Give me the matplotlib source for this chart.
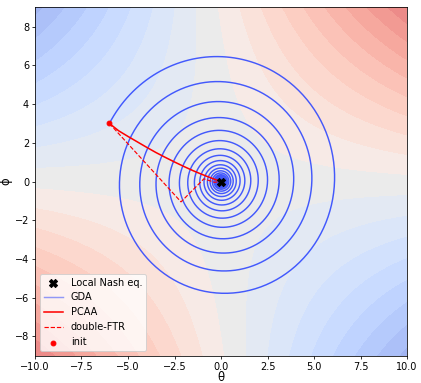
import numpy as np
import matplotlib
matplotlib.use("Agg")
import matplotlib.pyplot as plt
from matplotlib import cm

# ---------------- data ----------------
x_range = [-10.0, 10.0]
y_range = [-9.0, 9.0]
x_ticks = [-10.0, -7.5, -5.0, -2.5, 0.0, 2.5, 5.0, 7.5, 10.0]
y_ticks = [-8, -6, -4, -2, 0, 2, 4, 6, 8]

# objective coefficients f = c_xy*theta*phi + c_xx*theta^2 + c_yy*phi^2
c_xy = 1.0
c_xx = 0.015
c_yy = 0.08
level_step = 10.4
n_levels_half = 10

nash = [0.0, 0.0]
init = [-6.0, 3.0]

# GDA trajectory: clockwise spiral, radius x0.8 per turn
gda_decay_per_turn = 0.80
gda_turns = 30
gda_steps_per_turn = 360

# PCAA trajectory
pcaa_theta = [-6.0, -5.5, -5.0, -4.5, -4.0, -3.5, -3.0, -2.5, -2.0, -1.5, -1.0, -0.6, -0.3, 0.0]
pcaa_phi = [3.0, 2.62, 2.33, 2.05, 1.77, 1.50, 1.25, 1.01, 0.78, 0.56, 0.36, 0.21, 0.10, 0.0]

# double-FTR trajectory
ftr_theta = [-6.0, -2.15, -0.92, -0.35, 0.0]
ftr_phi = [3.0, -1.05, 0.14, -0.04, 0.0]

# ---------------- figure ----------------
DPI = 70
fig = plt.figure(figsize=(421 / DPI, 383 / DPI), dpi=DPI)
ax = fig.add_axes([0.083, 0.071, 0.884, 0.910])

th = np.linspace(x_range[0], x_range[1], 300)
ph = np.linspace(y_range[0], y_range[1], 300)
TH, PH = np.meshgrid(th, ph)
F = c_xy * TH * PH + c_xx * TH ** 2 + c_yy * PH ** 2
levels = level_step * (np.arange(-n_levels_half - 1, n_levels_half + 1) + 0.5)
mids = 0.5 * (levels[:-1] + levels[1:])
vmax = levels[-1]
fill_alpha = 0.58
t = (mids + vmax) / (2 * vmax)
base = cm.coolwarm(t)[:, :3]
pink = cm.bwr(t)[:, :3]
red_side = (t > 0.5)[:, None]
base = np.where(red_side, 0.65 * base + 0.35 * pink, base)
blend = fill_alpha * base + (1 - fill_alpha) * 1.0
ax.contourf(TH, PH, F, levels=levels, colors=[tuple(c) for c in blend],
            antialiased=False)

# GDA spiral via iteration
n = gda_turns * gda_steps_per_turn
dang = 2 * np.pi / gda_steps_per_turn
rho = gda_decay_per_turn ** (1.0 / gda_steps_per_turn)
M = rho * np.array([[np.cos(dang), np.sin(dang)], [-np.sin(dang), np.cos(dang)]])
z = np.array(init, dtype=float)
traj = [z.copy()]
for _ in range(n):
    z = M @ z
    traj.append(z.copy())
traj = np.array(traj)
ax.plot(traj[:, 0], traj[:, 1], color=(0.15, 0.25, 1.0), lw=1.5, alpha=0.85, label="GDA")

ax.plot(pcaa_theta, pcaa_phi, color="red", lw=1.6, label="PCAA")
ax.plot(ftr_theta, ftr_phi, color="red", lw=1.2, ls="--", label="double-FTR")
ax.scatter([nash[0]], [nash[1]], marker="X", s=70, color="black", zorder=5,
           label="Local Nash eq.")
ax.scatter([init[0]], [init[1]], marker="o", s=25, color="red", zorder=5, label="init")

ax.set_xlim(*x_range)
ax.set_ylim(*y_range)
ax.set_xticks(x_ticks)
ax.set_yticks(y_ticks)
ax.tick_params(pad=2.5)
ax.set_xlabel("θ", fontsize=12, labelpad=-0.5)
ax.set_ylabel("ϕ", fontsize=12, labelpad=2)

h, l = ax.get_legend_handles_labels()
order = [l.index(k) for k in ["Local Nash eq.", "GDA", "PCAA", "double-FTR", "init"]]
leg = ax.legend([h[i] for i in order], [l[i] for i in order], loc="lower left",
                framealpha=0.8)
leg.legend_handles[1].set_alpha(0.5)

fig.savefig("out.png", dpi=DPI)
